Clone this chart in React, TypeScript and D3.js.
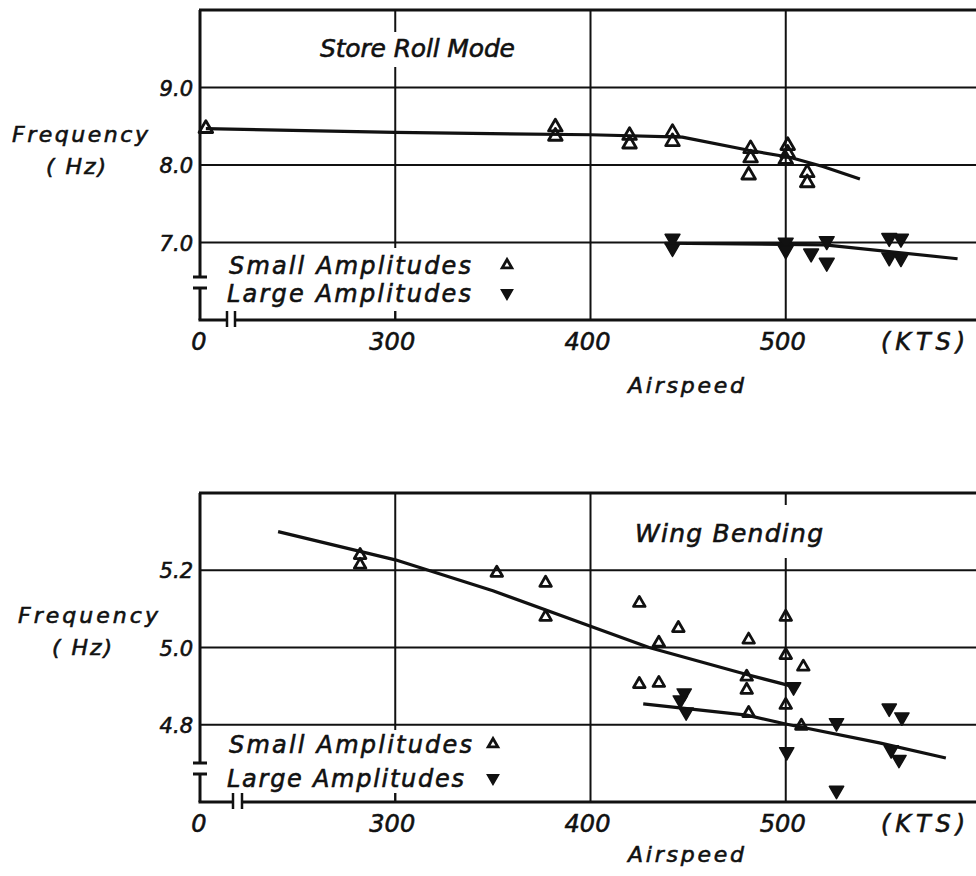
import React from 'react';
import * as d3 from 'd3';

// ---------- shared axis data ----------
const xTicks = [300, 400, 500];
const xTickLabels = ['300', '400', '500'];
const xBreakLabel = '0';
const xUnitLabel = '(KTS)';
const xTitle = 'Airspeed';
const yTitle1 = 'Frequency';
const yTitle2 = '( Hz)';
const legendSmall = 'Small  Amplitudes';
const legendLarge = 'Large  Amplitudes';

// ---------- top panel: Store Roll Mode ----------
const topTitle = 'Store  Roll  Mode';
const topYTicks = [7.0, 8.0, 9.0];
const topYTickLabels = ['7.0', '8.0', '9.0'];
const topSmallX = [203, 382, 382, 420, 420, 442, 442, 482, 482, 481, 501, 501, 500, 511, 511];
const topSmallY = [8.47, 8.49, 8.37, 8.38, 8.27, 8.42, 8.30, 8.21, 8.09, 7.87, 8.25, 8.15, 8.07, 7.90, 7.77];
const topLargeX = [442, 442, 500, 500, 513, 521, 521, 553, 553, 559, 559];
const topLargeY = [7.05, 6.93, 7.00, 6.90, 6.86, 7.02, 6.74, 7.06, 6.81, 7.05, 6.80];
const topSmallLineX = [203, 300, 400, 447, 481, 502, 519, 538];
const topSmallLineY = [8.47, 8.42, 8.39, 8.36, 8.19, 8.10, 7.98, 7.82];
const topLargeLineX = [438, 520, 588];
const topLargeLineY = [6.99, 6.97, 6.79];

// ---------- bottom panel: Wing Bending ----------
const botTitle = 'Wing  Bending';
const botYTicks = [4.8, 5.0, 5.2];
const botYTickLabels = ['4.8', '5.0', '5.2'];
const botSmallX = [282, 282, 352, 377, 377, 425, 435, 445, 425, 435, 481, 480, 480, 481, 500, 500, 500, 509, 508];
const botSmallY = [5.239, 5.214, 5.193, 5.167, 5.079, 5.115, 5.012, 5.05, 4.905, 4.908, 5.02, 4.924, 4.89, 4.83, 5.079, 4.98, 4.851, 4.95, 4.797];
const botLargeX = [448, 446, 449, 504, 500.5, 526, 526, 553, 559.5, 554, 558];
const botLargeY = [4.882, 4.864, 4.833, 4.898, 4.73, 4.805, 4.63, 4.843, 4.82, 4.735, 4.71];
const botSmallLineX = [240, 300, 350, 400, 430, 480, 503];
const botSmallLineY = [5.30, 5.227, 5.147, 5.055, 5.00, 4.93, 4.90];
const botLargeLineX = [427, 480, 500, 548, 582];
const botLargeLineY = [4.854, 4.825, 4.802, 4.753, 4.714];

const FONT = "'DejaVu Sans', 'Liberation Sans', sans-serif";
const INK = '#111';

type PanelProps = {
  yDomain: [number, number];
  yRange: [number, number];
  yTicks: number[];
  yTickLabels: string[];
  title: string;
  titleX: number;
  titleY: number;
  titleLen: number;
  titleMask: [number, number, number, number];
  smallX: number[];
  smallY: number[];
  largeX: number[];
  largeY: number[];
  smallLineX: number[];
  smallLineY: number[];
  largeLineX: number[];
  largeLineY: number[];
  capA: number;
  capB: number;
  breakA: number;
  breakB: number;
  legendMask: [number, number, number, number];
  legendSmallY: number;
  legendLargeY: number;
  legendSymX: number;
  legendSmallLen: number;
  legendLargeLen: number;
  freqY: number;
  freqX: number;
  freqLen: number;
  hzX: number;
  hzY: number;
  tickLabelY: number;
  airspeedY: number;
  openSize: number;
  filledSize: number;
};

const xScale = d3.scaleLinear().domain([200, 600]).range([200, 981]);

function Panel(p: PanelProps) {
  const y = d3.scaleLinear().domain(p.yDomain).range(p.yRange);
  const top = p.yRange[1];
  const bottom = p.yRange[0];
  const left = xScale(200);
  const right = xScale(600);
  const line = d3
    .line<[number, number]>()
    .x((d) => xScale(d[0]))
    .y((d) => y(d[1]))
    .curve(d3.curveLinear);
  const smallLine = p.smallLineX.map((v, i) => [v, p.smallLineY[i]] as [number, number]);
  const largeLine = p.largeLineX.map((v, i) => [v, p.largeLineY[i]] as [number, number]);
  const openTri = d3.symbol().type(d3.symbolTriangle).size(p.openSize)() as string;
  const fillTri = d3.symbol().type(d3.symbolTriangle).size(p.filledSize)() as string;
  const textStyle = {
    fontFamily: FONT,
    fontStyle: 'italic' as const,
    fill: INK,
    stroke: INK,
    strokeWidth: 0.6,
  };

  return (
    <g>
      {/* horizontal gridlines */}
      {p.yTicks.map((t) => (
        <line key={'h' + t} x1={left} x2={right} y1={y(t)} y2={y(t)} stroke={INK} strokeWidth={2} />
      ))}
      {/* vertical gridlines */}
      {xTicks.map((t) => (
        <line key={'v' + t} x1={xScale(t)} x2={xScale(t)} y1={top} y2={bottom} stroke={INK} strokeWidth={2} />
      ))}
      {/* masks for text areas */}
      <rect x={p.titleMask[0]} y={p.titleMask[1]} width={p.titleMask[2]} height={p.titleMask[3]} fill="#fff" />
      <rect x={p.legendMask[0]} y={p.legendMask[1]} width={p.legendMask[2]} height={p.legendMask[3]} fill="#fff" />
      {/* small tick at bottom of 300 gridline */}
      <line x1={xScale(300)} x2={xScale(300)} y1={bottom - 9} y2={bottom} stroke={INK} strokeWidth={2} />

      {/* frame: top border */}
      <line x1={left - 1} x2={right} y1={top} y2={top} stroke={INK} strokeWidth={3} />
      {/* left axis with break */}
      <line x1={left} x2={left} y1={top} y2={p.capA} stroke={INK} strokeWidth={3} />
      <line x1={left - 7} x2={left + 7} y1={p.capA} y2={p.capA} stroke={INK} strokeWidth={3} />
      <line x1={left - 7} x2={left + 7} y1={p.capB} y2={p.capB} stroke={INK} strokeWidth={3} />
      <line x1={left} x2={left} y1={p.capB} y2={bottom} stroke={INK} strokeWidth={3} />
      {/* bottom axis with break */}
      <line x1={left - 1.5} x2={p.breakA} y1={bottom} y2={bottom} stroke={INK} strokeWidth={3} />
      <line x1={p.breakA} x2={p.breakA} y1={bottom - 9} y2={bottom + 7} stroke={INK} strokeWidth={2.5} />
      <line x1={p.breakB} x2={p.breakB} y1={bottom - 9} y2={bottom + 7} stroke={INK} strokeWidth={2.5} />
      <line x1={p.breakB} x2={right} y1={bottom} y2={bottom} stroke={INK} strokeWidth={3} />

      {/* fitted lines */}
      <path d={line(smallLine) || ''} fill="none" stroke={INK} strokeWidth={3.2} strokeLinejoin="round" />
      <path d={line(largeLine) || ''} fill="none" stroke={INK} strokeWidth={3.2} strokeLinejoin="round" />

      {/* data markers */}
      {p.smallX.map((v, i) => (
        <path
          key={'s' + i}
          d={openTri}
          transform={`translate(${xScale(v)},${y(p.smallY[i])})`}
          fill="none"
          stroke={INK}
          strokeWidth={2.8}
          strokeLinejoin="round"
        />
      ))}
      {p.largeX.map((v, i) => (
        <path
          key={'l' + i}
          d={fillTri}
          transform={`translate(${xScale(v)},${y(p.largeY[i])}) rotate(180)`}
          fill={INK}
          stroke={INK}
          strokeWidth={1.5}
          strokeLinejoin="round"
        />
      ))}

      {/* title */}
      <text x={p.titleX} y={p.titleY} fontSize={25} textLength={p.titleLen} lengthAdjust="spacing" style={textStyle}>
        {p.title}
      </text>

      {/* y tick labels */}
      {p.yTicks.map((t, i) => (
        <text key={'yl' + t} x={193} y={y(t) + 8} fontSize={21} textAnchor="end" style={textStyle}>
          {p.yTickLabels[i]}
        </text>
      ))}
      {/* y title */}
      <text x={p.freqX} y={p.freqY} fontSize={22} textLength={p.freqLen} lengthAdjust="spacing" style={textStyle}>
        {yTitle1}
      </text>
      <text x={p.hzX} y={p.hzY} fontSize={22} textLength={60} lengthAdjust="spacing" style={textStyle}>
        {yTitle2}
      </text>

      {/* x tick labels */}
      <text x={left - 1} y={p.tickLabelY} fontSize={24} textAnchor="middle" style={textStyle}>
        {xBreakLabel}
      </text>
      {xTicks.map((t, i) => (
        <text key={'xl' + t} x={xScale(t) - 3} y={p.tickLabelY} fontSize={24} textAnchor="middle" style={textStyle}>
          {xTickLabels[i]}
        </text>
      ))}
      <text x={923} y={p.tickLabelY} fontSize={24} textAnchor="middle" textLength={84} lengthAdjust="spacing" style={textStyle}>
        {xUnitLabel}
      </text>
      <text x={686} y={p.airspeedY} fontSize={22} textAnchor="middle" textLength={116} lengthAdjust="spacing" style={textStyle}>
        {xTitle}
      </text>

      {/* legend */}
      <text x={229} y={p.legendSmallY} fontSize={24} textLength={p.legendSmallLen} lengthAdjust="spacing" style={textStyle}>
        {legendSmall}
      </text>
      <text x={227} y={p.legendLargeY} fontSize={24} textLength={p.legendLargeLen} lengthAdjust="spacing" style={textStyle}>
        {legendLarge}
      </text>
      <path
        d={d3.symbol().type(d3.symbolTriangle).size(40)() as string}
        transform={`translate(${p.legendSymX},${p.legendSmallY - 9})`}
        fill="none"
        stroke={INK}
        strokeWidth={2.8}
      />
      <path
        d={d3.symbol().type(d3.symbolTriangle).size(55)() as string}
        transform={`translate(${p.legendSymX},${p.legendLargeY - 9}) rotate(180)`}
        fill={INK}
        stroke={INK}
        strokeWidth={1.5}
      />
    </g>
  );
}

export default function App() {
  return (
    <svg
      width={976}
      height={876}
      viewBox="0 0 976 876"
      style={{ position: 'absolute', left: 0, top: 0, background: '#fff' }}
    >
      <rect x={0} y={0} width={976} height={876} fill="#fff" />
      <Panel
        yDomain={[6, 10]}
        yRange={[320, 10]}
        yTicks={topYTicks}
        yTickLabels={topYTickLabels}
        title={topTitle}
        titleX={320}
        titleY={57}
        titleLen={195}
        titleMask={[312, 32, 210, 35]}
        smallX={topSmallX}
        smallY={topSmallY}
        largeX={topLargeX}
        largeY={topLargeY}
        smallLineX={topSmallLineX}
        smallLineY={topSmallLineY}
        largeLineX={topLargeLineX}
        largeLineY={topLargeLineY}
        capA={277}
        capB={288}
        breakA={227}
        breakB={235}
        legendMask={[212, 248, 310, 63]}
        legendSmallY={274}
        legendLargeY={302}
        legendSymX={507}
        legendSmallLen={242}
        legendLargeLen={244}
        freqX={12}
        freqY={142}
        freqLen={136}
        hzX={46}
        hzY={174}
        tickLabelY={350}
        airspeedY={393}
        openSize={80}
        filledSize={95}
      />
      <Panel
        yDomain={[4.6, 5.4]}
        yRange={[802, 493]}
        yTicks={botYTicks}
        yTickLabels={botYTickLabels}
        title={botTitle}
        titleX={635}
        titleY={542}
        titleLen={188}
        titleMask={[626, 505, 210, 53]}
        smallX={botSmallX}
        smallY={botSmallY}
        largeX={botLargeX}
        largeY={botLargeY}
        smallLineX={botSmallLineX}
        smallLineY={botSmallLineY}
        largeLineX={botLargeLineX}
        largeLineY={botLargeLineY}
        capA={763}
        capB={774}
        breakA={233}
        breakB={242}
        legendMask={[212, 730, 296, 63]}
        legendSmallY={753}
        legendLargeY={787}
        legendSymX={493}
        legendSmallLen={243}
        legendLargeLen={237}
        freqX={18}
        freqY={623}
        freqLen={140}
        hzX={52}
        hzY={655}
        tickLabelY={832}
        airspeedY={862}
        openSize={58}
        filledSize={88}
      />
    </svg>
  );
}
